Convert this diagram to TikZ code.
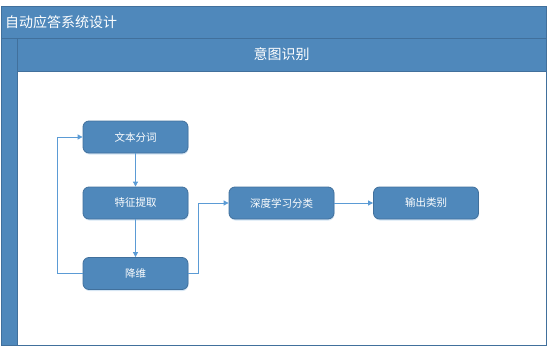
\documentclass[tikz,border=0pt]{standalone}
\usepackage{fontspec}
\setmainfont{Noto Sans CJK SC}
\usetikzlibrary{arrows.meta,positioning,shadows}
\definecolor{laneblue}{HTML}{4F88BB}
\definecolor{laneedge}{HTML}{41709C}
\definecolor{flowline}{HTML}{5B9BD5}

\begin{document}
\begin{tikzpicture}[x=1pt,y=-1pt,
    stepbox/.style={draw=laneedge,fill=laneblue,rounded corners=6pt,line width=0.8pt,
      minimum width=105pt,minimum height=32pt,text=white,font=\fontsize{10.5}{12}\selectfont,
      drop shadow={shadow xshift=0.5pt,shadow yshift=-1.5pt,opacity=0.25,fill=flowline}},
    flow/.style={draw=flowline,line width=0.8pt,-{Triangle[length=5pt,width=5pt]}}]
  \useasboundingbox (0,0) rectangle (549,348);
  % pool frame and headers
  \fill[laneblue,draw=laneedge,line width=0.8pt] (1,6) rectangle (546,38);
  \node[anchor=west,inner sep=0pt,text=white,font=\fontsize{14}{16}\selectfont] (pool) at (5,22) {自动应答系统设计};
  \fill[laneblue,draw=laneedge,line width=0.8pt] (1,38) rectangle (17,345);
  \fill[laneblue,draw=laneedge,line width=0.8pt] (17,38) rectangle (546,71);
  \node[text=white,font=\fontsize{14}{16}\selectfont] (lane) at (281.5,54.5) {意图识别};
  \draw[laneedge,line width=0.8pt] (17,71) rectangle (546,345);
  % steps
  \node[stepbox] (seg) at (135.5,137) {文本分词};
  \node[stepbox] (feat) at (135.5,203) {特征提取};
  \node[stepbox] (dim) at (135.5,273.5) {降维};
  \node[stepbox] (deep) at (281.5,203) {深度学习分类};
  \node[stepbox] (out) at (426,203) {输出类别};
  % connectors
  \draw[flow] (seg) -- (feat);
  \draw[flow] (feat) -- (dim);
  \draw[flow] (dim.west) -- ++(-25,0) |- (seg.west);
  \draw[flow] (dim.east) -- ++(10,0) |- (deep.west);
  \draw[flow] (deep) -- (out);
\end{tikzpicture}
\end{document}
